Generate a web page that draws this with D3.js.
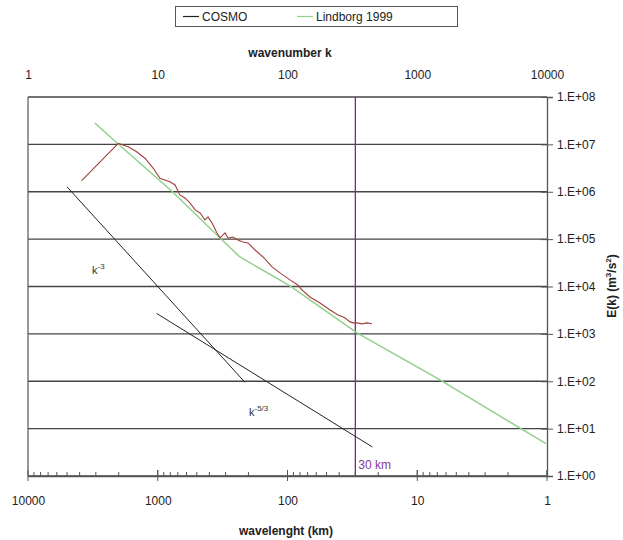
<!DOCTYPE html>
<html>
<head>
<meta charset="utf-8">
<script src="https://cdn.jsdelivr.net/npm/d3@7"></script>
<style>
  body { margin: 0; background: #fff; }
  svg text { font-family: "Liberation Sans", Arial, sans-serif; fill: #222; }
</style>
</head>
<body>
<svg id="chart" width="623" height="540"></svg>
<script>
// values (wavenumber k, energy E)
const cosmoK = [2.59, 4.97, 5.93, 6.88, 7.97, 9.24, 10.4, 12.4, 13.6, 14.8, 16.2, 17.7, 19.4, 21.2, 23.1, 24.4, 26.2, 28.6, 30.2, 33.0, 34.8, 38.0, 41.5, 45.4, 49.6, 56.2, 64.8, 76.0, 87.6, 104.5, 120, 129, 149, 178, 213, 245, 277, 303, 320, 343, 375, 410, 448];
const cosmoE = [1.71e6, 1.05e7, 8.9e6, 7.0e6, 5.1e6, 3.13e6, 1.93e6, 1.63e6, 1.39e6, 8.55e5, 7.4e5, 5.8e5, 4.13e5, 3.57e5, 2.54e5, 2.94e5, 2.2e5, 1.35e5, 1.06e5, 1.35e5, 1.06e5, 1.11e5, 9.6e4, 8.7e4, 8.3e4, 5.9e4, 4.2e4, 2.6e4, 1.94e4, 1.38e4, 1.08e4, 8.5e3, 6.0e3, 4.5e3, 3.2e3, 2.5e3, 2.18e3, 1.79e3, 1.71e3, 1.71e3, 1.63e3, 1.71e3, 1.63e3];

const lindK = [3.28, 4.85, 12.8, 30.2, 43.0, 104.5, 343, 1497, 9820];
const lindE = [2.83e7, 1.07e7, 1.04e6, 1.06e5, 4.2e4, 1.03e4, 1.05e3, 107, 4.8];

const k3K = [2.0, 47];
const k3E = [1.27e6, 95];
const k53K = [9.8, 451];
const k53E = [2.7e3, 4.1];

const cutoffKm = 30;

const kTicks = [1, 10, 100, 1000, 10000];
const kmTicks = [10000, 1000, 100, 10, 1];
const eTicks = [1, 10, 100, 1e3, 1e4, 1e5, 1e6, 1e7, 1e8];

const svg = d3.select('#chart');

const plotLeft = 28, plotRight = 547, plotTop = 97, plotBottom = 476;

const xK = d3.scaleLog().domain([1, 10000]).range([plotLeft, plotRight]);
const xKm = d3.scaleLog().domain([10000, 1]).range([plotLeft, plotRight]);
const y = d3.scaleLog().domain([1, 1e8]).range([plotBottom, plotTop]);

// horizontal gridlines
svg.append('g').selectAll('line').data(eTicks).enter().append('line')
    .attr('x1', plotLeft).attr('x2', plotRight)
    .attr('y1', (d) => y(d)).attr('y2', (d) => y(d))
    .attr('stroke', '#444').attr('stroke-width', 1.3);

// left frame
svg.append('line').attr('x1', plotLeft).attr('x2', plotLeft).attr('y1', plotTop).attr('y2', plotBottom)
    .attr('stroke', '#555').attr('stroke-width', 1.2);

// right axis
const yAxis = svg.append('g').attr('transform', `translate(${plotRight},0)`)
    .call(d3.axisRight(y).tickValues(eTicks).tickSize(6).tickPadding(4)
        .tickFormat((d) => '1.E+' + String(Math.round(Math.log10(d))).padStart(2, '0')));
yAxis.select('.domain').attr('stroke', '#555').attr('stroke-width', 1.3);
yAxis.selectAll('.tick line').attr('x1', -6).attr('stroke', '#555');
yAxis.selectAll('.tick text').attr('font-size', 12).attr('fill', '#333');

// bottom axis (wavelength)
const xAxis = svg.append('g').attr('transform', `translate(0,${plotBottom})`)
    .call(d3.axisBottom(xKm).tickValues(kmTicks).tickSize(0).tickPadding(20)
        .tickFormat(d3.format('d')));
xAxis.select('.domain').attr('stroke', '#555').attr('stroke-width', 1.3);
xAxis.selectAll('.tick text').attr('font-size', 12).attr('fill', '#333');

const minorKm = [];
for (let dec = 1; dec < 10000; dec *= 10) {
    for (let m = 1; m < 10; m++) minorKm.push(dec * m);
}
svg.append('g').selectAll('line').data(minorKm).enter().append('line')
    .attr('x1', (d) => xKm(d)).attr('x2', (d) => xKm(d))
    .attr('y1', plotBottom).attr('y2', (d) => kmTicks.includes(d) ? plotBottom - 6 : plotBottom - 4)
    .attr('stroke', '#555');
svg.append('g').selectAll('line').data(kmTicks).enter().append('line')
    .attr('x1', (d) => xKm(d)).attr('x2', (d) => xKm(d))
    .attr('y1', plotBottom - 6).attr('y2', plotBottom + 5)
    .attr('stroke', '#555');

// top axis (wavenumber)
const kAxis = svg.append('g').attr('transform', `translate(0,${plotTop})`)
    .call(d3.axisTop(xK).tickValues(kTicks).tickSize(0).tickPadding(18)
        .tickFormat(d3.format('d')));
kAxis.select('.domain').remove();
kAxis.selectAll('.tick text').attr('font-size', 12).attr('fill', '#333');

// 30 km cutoff
svg.append('line')
    .attr('x1', xKm(cutoffKm)).attr('x2', xKm(cutoffKm))
    .attr('y1', plotTop).attr('y2', plotBottom)
    .attr('stroke', '#7a2a86').attr('stroke-width', 1.3);
svg.append('text').attr('x', xKm(cutoffKm) + 3).attr('y', plotBottom - 7)
    .attr('font-size', 12).style('fill', '#8a3a96').text('30 km');

const line = d3.line().x((d) => xK(d[0])).y((d) => y(d[1]));

// reference slopes
svg.append('path').datum(d3.zip(k3K, k3E)).attr('d', line)
    .attr('fill', 'none').attr('stroke', '#222').attr('stroke-width', 1);
svg.append('path').datum(d3.zip(k53K, k53E)).attr('d', line)
    .attr('fill', 'none').attr('stroke', '#222').attr('stroke-width', 1);

// Lindborg 1999
svg.append('path').datum(d3.zip(lindK, lindE)).attr('d', line)
    .attr('fill', 'none').attr('stroke', '#8fd18a').attr('stroke-width', 1.5);

// COSMO
svg.append('path').datum(d3.zip(cosmoK, cosmoE)).attr('d', line)
    .attr('fill', 'none').attr('stroke', '#a0403a').attr('stroke-width', 1.1);

// slope labels
const k3Label = svg.append('text').attr('x', 92).attr('y', 274).attr('font-size', 11).style('fill', '#333');
k3Label.append('tspan').text('k');
k3Label.append('tspan').attr('dy', -5).attr('font-size', 8).text('-3');
const k53Label = svg.append('text').attr('x', 249).attr('y', 416).attr('font-size', 11).style('fill', '#333');
k53Label.append('tspan').text('k');
k53Label.append('tspan').attr('dy', -5).attr('font-size', 8).text('-5/3');

// titles
svg.append('text').attr('x', 290).attr('y', 57).attr('text-anchor', 'middle')
    .attr('font-size', 12).attr('font-weight', 'bold').text('wavenumber k');
svg.append('text').attr('x', 286).attr('y', 535).attr('text-anchor', 'middle')
    .attr('font-size', 12).attr('font-weight', 'bold').text('wavelenght (km)');

const yTitle = svg.append('text').attr('transform', 'translate(616,286) rotate(-90)')
    .attr('text-anchor', 'middle').attr('font-size', 12).attr('font-weight', 'bold');
yTitle.append('tspan').text('E(k) (m');
yTitle.append('tspan').attr('dy', -5).attr('font-size', 8).text('3');
yTitle.append('tspan').attr('dy', 5).text('/s');
yTitle.append('tspan').attr('dy', -5).attr('font-size', 8).text('2');
yTitle.append('tspan').attr('dy', 5).text(')');

// legend
const legend = svg.append('g');
legend.append('rect').attr('x', 175.5).attr('y', 6.5).attr('width', 282).attr('height', 20)
    .attr('fill', '#fff').attr('stroke', '#555');
const legendItems = [
    { name: 'COSMO', color: '#222', x: 183 },
    { name: 'Lindborg 1999', color: '#8fd18a', x: 297 }
];
legendItems.forEach((item) => {
    legend.append('line').attr('x1', item.x).attr('x2', item.x + 16)
        .attr('y1', 16.5).attr('y2', 16.5).attr('stroke', item.color).attr('stroke-width', 1.2);
    legend.append('text').attr('x', item.x + 19).attr('y', 21)
        .attr('font-size', 12).attr('fill', '#333').text(item.name);
});
</script>
</body>
</html>
